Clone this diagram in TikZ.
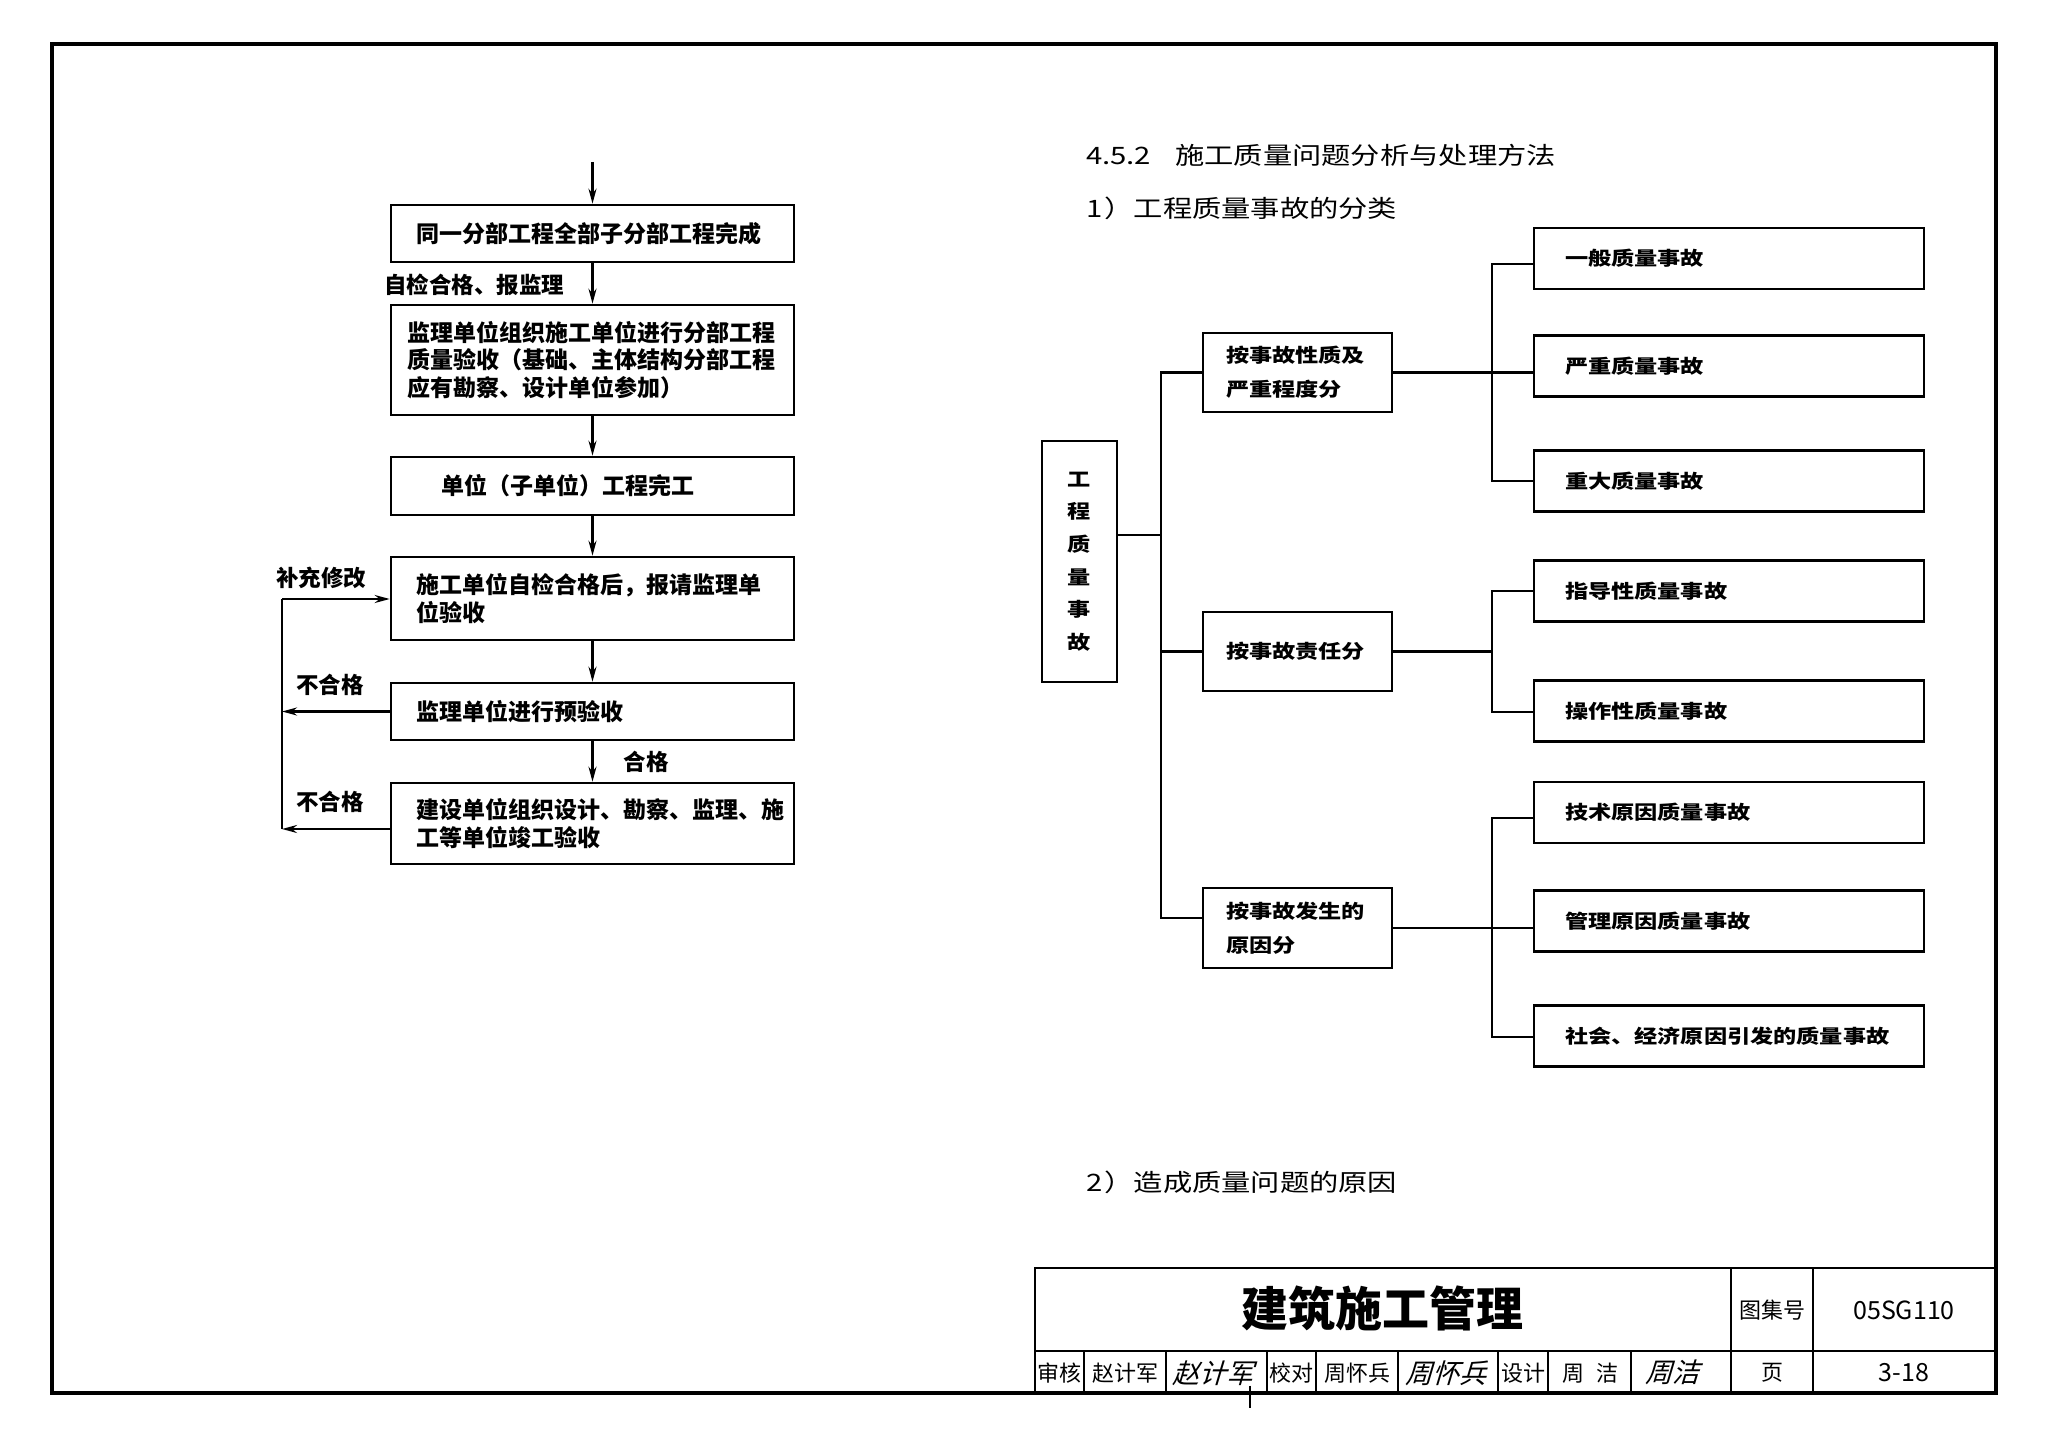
\documentclass[tikz,border=0pt]{standalone}
\usepackage{fontspec}
\setmainfont{Noto Sans CJK SC}
\newfontfamily\cjk{Noto Sans CJK SC}
\newfontfamily\cjkw[FakeStretch=1.22]{Noto Sans CJK SC}
\newfontfamily\sigf[FakeSlant=0.3]{Noto Sans CJK SC}
\usetikzlibrary{arrows.meta}
\newcommand{\ind}{\hspace*{9pt}}
\tikzset{
  lbox/.style={draw, line width=2.6pt, inner xsep=16pt, inner ysep=0pt, text width=371pt, align=left,
    font=\cjk\bfseries\fontsize{23}{27.5}\selectfont},
  mbox/.style={draw, line width=2.4pt, inner xsep=23pt, inner ysep=0pt, text width=143pt, minimum height=79pt,
    align=left, font=\cjkw\bfseries\fontsize{19}{34}\selectfont},
  leaf/.style={draw, line width=2.4pt, inner xsep=31pt, inner ysep=0pt, text width=328pt, minimum height=61pt,
    align=left, font=\cjkw\bfseries\fontsize{19}{22}\selectfont},
  conn/.style={line width=2.2pt},
  arr/.style={conn, -{Stealth[length=15pt,width=8pt]}},
  lab/.style={font=\cjk\bfseries\fontsize{22.5}{26}\selectfont, inner sep=0pt},
  head/.style={font=\cjkw\fontsize{24}{28}\selectfont, anchor=west, inner sep=0pt},
  tb/.style={line width=1.6pt},
  tbtext/.style={font=\cjk\fontsize{22}{26}\selectfont, inner sep=0pt},
  sigtext/.style={font=\sigf\fontsize{27}{30}\selectfont, inner sep=0pt},
}
\begin{document}
\begin{tikzpicture}[x=1pt, y=-1pt]
\useasboundingbox (0,0) rectangle (2048,1439);
\fill[white] (0,0) rectangle (2048,1439);
% outer frame
\draw[line width=4pt] (52,44) rectangle (1996,1393);

% ---------- left flowchart ----------
\node[lbox, minimum height=57pt] (b1) at (592.5,233.5) {\ind 同一分部工程全部子分部工程完成};
\node[lbox, minimum height=110pt] (b2) at (592.5,360) {监理单位组织施工单位进行分部工程\\质量验收（基础、主体结构分部工程\\应有勘察、设计单位参加）};
\node[lbox, minimum height=58pt] (b3) at (592.5,486) {\hspace*{34pt}单位（子单位）工程完工};
\node[lbox, minimum height=83pt] (b4) at (592.5,598.5) {\ind 施工单位自检合格后，报请监理单\\\ind 位验收};
\node[lbox, minimum height=57pt] (b5) at (592.5,711.5) {\ind 监理单位进行预验收};
\node[lbox, minimum height=81pt] (b6) at (592.5,823.5) {\ind 建设单位组织设计、勘察、监理、施\\\ind 工等单位竣工验收};

\coordinate (start) at (592.5,162);
\draw[arr] (start) -- (b1.north);
\draw[arr] (b1.south) -- (b2.north);
\draw[arr] (b2.south) -- (b3.north);
\draw[arr] (b3.south) -- (b4.north);
\draw[arr] (b4.south) -- (b5.north);
\draw[arr] (b5.south) -- (b6.north);

\coordinate (lt) at (282,599);
\coordinate (lb) at (282,829);
\draw[arr] (b5.west) -- (b5.west -| lt);
\draw[arr] (lb -| b6.west) -- (lb);
\draw[conn] (lb) -- (lt);
\draw[arr] (lt) -- (lt -| b4.west);

\node[lab] (l1) at (474,285) {自检合格、报监理};
\node[lab] (l2) at (321,578) {补充修改};
\node[lab] (l3) at (330,685) {不合格};
\node[lab] (l4) at (330,802) {不合格};
\node[lab] (l5) at (646,762) {合格};

% ---------- right tree ----------
\node[head] (h1) at (1086,155) {4.5.2\hspace{24pt}施工质量问题分析与处理方法};
\node[head] (h2) at (1086,208) {1\hspace{2pt}）工程质量事故的分类};
\node[head] (h3) at (1086,1182) {2\hspace{2pt}）造成质量问题的原因};

\node[draw, line width=2.4pt, minimum width=75pt, minimum height=241pt, inner sep=0pt, align=center,
  font=\cjkw\bfseries\fontsize{19}{32.6}\selectfont] (root) at (1079.5,561.5) {工\\程\\质\\量\\事\\故};

\node[mbox] (m1) at (1297.5,372.5) {按事故性质及\\严重程度分};
\node[mbox] (m2) at (1297.5,651.5) {按事故责任分};
\node[mbox, minimum height=80pt] (m3) at (1297.5,928) {按事故发生的\\原因分};

\node[leaf] (q1) at (1729,258.5) {一般质量事故};
\node[leaf] (q2) at (1729,366) {严重质量事故};
\node[leaf] (q3) at (1729,481) {重大质量事故};
\node[leaf] (q4) at (1729,591) {指导性质量事故};
\node[leaf] (q5) at (1729,711) {操作性质量事故};
\node[leaf] (q6) at (1729,812.5) {技术原因质量事故};
\node[leaf] (q7) at (1729,921) {管理原因质量事故};
\node[leaf] (q8) at (1729,1036) {社会、经济原因引发的质量事故};

\coordinate (t0) at (1161,535);
\coordinate (ttop) at (1161,372.5);
\coordinate (tbot) at (1161,918);
\draw[conn] (t0 -| root.east) -- (t0);
\draw[conn] (ttop -| m1.west) -- (ttop) -- (tbot) -- (tbot -| m3.west);
\draw[conn] (m2.west) -- (m2.west -| ttop);

\coordinate (a1) at (1492,264);
\coordinate (a3) at (1492,481);
\draw[conn] (a1 -| q1.west) -- (a1) -- (a3) -- (a3 -| q3.west);
\draw[conn] (m1.east) -- (m1.east -| q2.west);

\coordinate (c4) at (1492,591);
\coordinate (c5) at (1492,712);
\draw[conn] (c4 -| q4.west) -- (c4) -- (c5) -- (c5 -| q5.west);
\draw[conn] (m2.east) -- (m2.east -| c4);

\coordinate (d6) at (1492,818);
\coordinate (d8) at (1492,1037);
\draw[conn] (d6 -| q6.west) -- (d6) -- (d8) -- (d8 -| q8.west);
\draw[conn] (m3.east) -- (m3.east -| q7.west);

% ---------- title block ----------
\draw[line width=2.6pt] (1035,1393) -- (1035,1268) -- (1996,1268);
\draw[line width=2pt] (1035,1351) -- (1996,1351);
\draw[tb] (1731,1268) -- (1731,1393);
\draw[tb] (1813,1268) -- (1813,1393);
\foreach \x in {1084,1166,1267,1316,1398,1498,1548,1631}
  \draw[tb] (\x,1351) -- (\x,1393);

\node[font=\cjk\bfseries\fontsize{47}{50}\selectfont, inner sep=0pt] (title) at (1382,1308) {建筑施工管理};
\node[tbtext] (tj) at (1772,1310) {图集号};
\node[font=\cjk\fontsize{25}{28}\selectfont, inner sep=0pt] (no) at (1904,1310) {05SG110};
\node[tbtext] (sh) at (1059.5,1373) {审核};
\node[tbtext] (n1) at (1125,1373) {赵计军};
\node[sigtext] (s1) at (1213,1373) {赵计军};
\node[tbtext] (jd) at (1291.5,1373) {校对};
\node[tbtext] (n2) at (1357,1373) {周怀兵};
\node[sigtext] (s2) at (1446,1373) {周怀兵};
\node[tbtext] (sj) at (1523,1373) {设计};
\node[tbtext] (n3) at (1590,1373) {周\hspace{12pt}洁};
\node[sigtext] (s3) at (1672,1372) {周洁};
\node[tbtext] (ye) at (1772,1373) {页};
\node[font=\cjk\fontsize{25}{28}\selectfont, inner sep=0pt] (pg) at (1904,1373) {3-18};
\draw[line width=1.5pt] (s1.south) ++(37,0) coordinate (sv) -- ++(0,22);
\end{tikzpicture}
\end{document}
